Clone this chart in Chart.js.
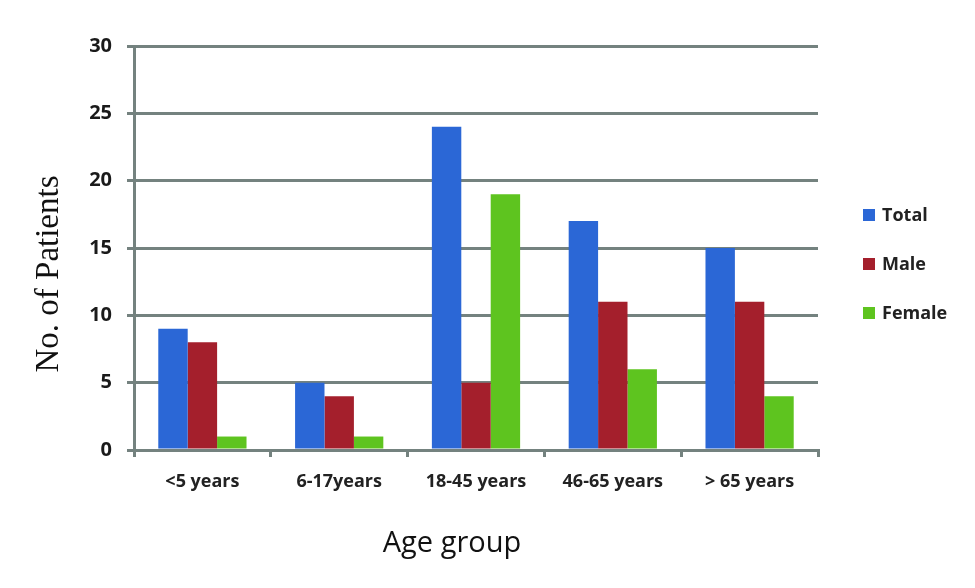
<!DOCTYPE html>
<html>
<head>
<meta charset="utf-8">
<script src="https://cdn.jsdelivr.net/npm/chart.js@4.4.1/dist/chart.umd.min.js"></script>
<style>
  html, body { margin: 0; padding: 0; background: #fff; }
  #wrap { width: 975px; height: 588px; }
</style>
</head>
<body>
<div id="wrap"><canvas id="chart" width="975" height="588"></canvas></div>
<script>
const categories = ['<5 years', '6-17years', '18-45 years', '46-65 years', '> 65 years'];
const totalValues = [9, 5, 24, 17, 15];
const maleValues = [8, 4, 5, 11, 11];
const femaleValues = [1, 1, 19, 6, 4];
const seriesNames = ['Total', 'Male', 'Female'];
const seriesColors = ['#2b67d6', '#a41f2c', '#5ec41f'];
const yTitle = 'No. of Patients';
const xTitle = 'Age group';

const gridColor = '#74827f';

// legend and axis titles sit off-centre in the original, so they are drawn here
const sideLegend = {
    id: 'sideLegend',
    afterDraw(chart) {
        const ctx = chart.ctx;
        const area = chart.chartArea;
        const x = area.right + 45;
        let y = area.top + 169;
        ctx.save();
        ctx.font = 'bold 18px "Open Sans"';
        ctx.textBaseline = 'middle';
        chart.data.datasets.forEach(function(ds) {
            ctx.fillStyle = ds.backgroundColor;
            ctx.fillRect(x, y - 6, 12, 12);
            ctx.fillStyle = '#222';
            ctx.fillText(ds.label, x + 19, y + 1);
            y += 49;
        });

        // y title
        ctx.fillStyle = '#111';
        ctx.textAlign = 'center';
        ctx.font = '33px "Liberation Serif"';
        ctx.translate(49, area.top + 228);
        ctx.rotate(-Math.PI / 2);
        ctx.fillText(yTitle, 0, 0);
        ctx.restore();

        // x title
        ctx.save();
        ctx.fillStyle = '#111';
        ctx.textAlign = 'center';
        ctx.textBaseline = 'middle';
        ctx.font = '29px "Open Sans"';
        ctx.fillText(xTitle, area.left + 318, area.bottom + 94);
        ctx.restore();
    }
};

new Chart(document.getElementById('chart'), {
    type: 'bar',
    data: {
        labels: categories,
        datasets: [
            { label: seriesNames[0], data: totalValues, backgroundColor: seriesColors[0] },
            { label: seriesNames[1], data: maleValues, backgroundColor: seriesColors[1] },
            { label: seriesNames[2], data: femaleValues, backgroundColor: seriesColors[2] }
        ]
    },
    options: {
        responsive: false,
        animation: false,
        layout: {
            padding: { top: 46, right: 157, bottom: 0, left: 0 }
        },
        datasets: {
            bar: { categoryPercentage: 0.645, barPercentage: 1.0 }
        },
        plugins: {
            legend: { display: false },
            tooltip: { enabled: false }
        },
        scales: {
            x: {
                afterFit: function(scale) { scale.height = 138; },
                grid: {
                    display: true,
                    drawOnChartArea: false,
                    color: gridColor,
                    lineWidth: 3,
                    tickLength: 7
                },
                border: { color: gridColor, width: 3 },
                ticks: {
                    color: '#222',
                    padding: 14,
                    font: { family: 'Open Sans', size: 18, weight: 'bold' }
                }
            },
            y: {
                min: 0,
                max: 30,
                afterFit: function(scale) { scale.width = 134; },
                grid: {
                    color: gridColor,
                    lineWidth: 3,
                    tickLength: 7
                },
                border: { color: gridColor, width: 3 },
                ticks: {
                    stepSize: 5,
                    color: '#1a1a1a',
                    padding: 15,
                    font: { family: 'Open Sans', size: 20, weight: 'bold' }
                }
            }
        }
    },
    plugins: [sideLegend]
});
</script>
</body>
</html>
